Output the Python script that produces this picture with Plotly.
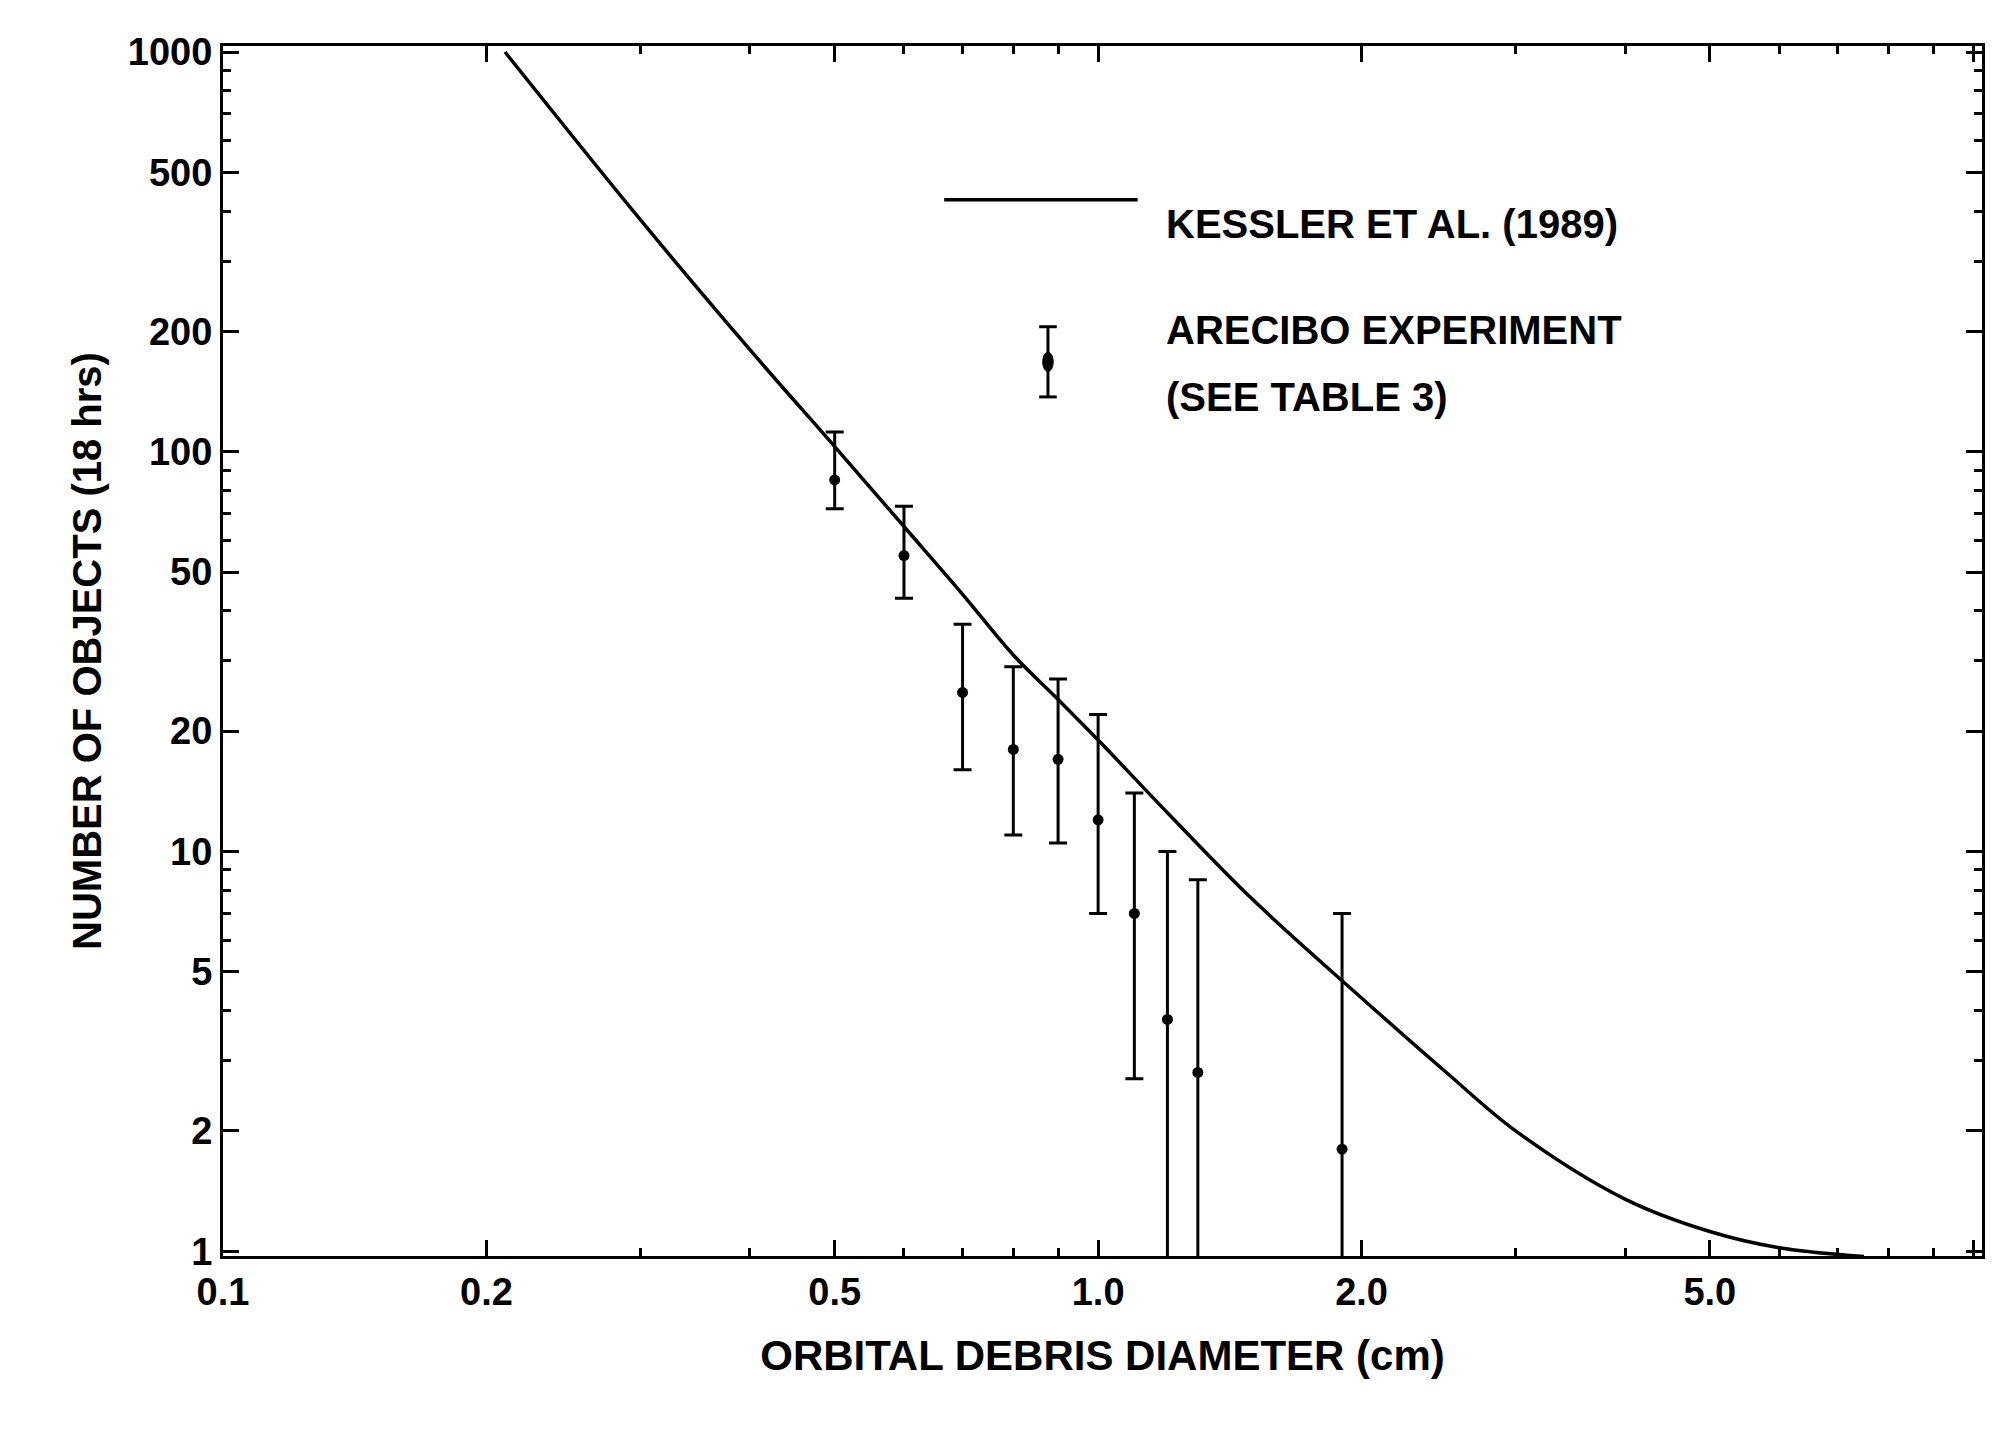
import plotly.graph_objects as go

# Kessler et al. (1989) model curve
kessler_d = [0.21, 0.3, 0.4, 0.5, 0.6, 0.7, 0.8, 0.9, 1.0, 1.2, 1.5, 2.0, 2.5, 3.0, 4.0, 5.0, 6.0, 7.5]
kessler_n = [1000, 380, 180, 103, 65, 44, 31, 24, 19, 12.5, 7.6, 4.3, 2.8, 2.0, 1.35, 1.12, 1.02, 0.97]

# Arecibo experiment points with error bars
arecibo_d = [0.5, 0.6, 0.7, 0.8, 0.9, 1.0, 1.1, 1.2, 1.3, 1.9]
arecibo_n = [85, 55, 25, 18, 17, 12, 7, 3.8, 2.8, 1.8]
arecibo_lo = [72, 43, 16, 11, 10.5, 7, 2.7, 0.9, 0.9, 0.9]
arecibo_hi = [112, 73, 37, 29, 27, 22, 14, 10, 8.5, 7]

xticks = [0.1, 0.2, 0.5, 1.0, 2.0, 5.0, 10.0]
xlabels = ["0.1", "0.2", "0.5", "1.0", "2.0", "5.0", "10.0"]
xminor = [0.3, 0.4, 0.6, 0.7, 0.8, 0.9, 3, 4, 6, 7, 8, 9]
yticks = [1, 2, 5, 10, 20, 50, 100, 200, 500, 1000]
yminor = [3, 4, 6, 7, 8, 9, 30, 40, 60, 70, 80, 90, 300, 400, 600, 700, 800, 900]

FONT = "Liberation Sans"

fig = go.Figure()
fig.add_trace(go.Scatter(
    x=kessler_d, y=kessler_n, mode="lines",
    line=dict(color="black", width=3.5, shape="spline", smoothing=1.0),
    showlegend=False,
))
fig.add_trace(go.Scatter(
    x=arecibo_d, y=arecibo_n, mode="markers",
    marker=dict(color="black", size=11),
    error_y=dict(
        type="data", symmetric=False,
        array=[h - n for h, n in zip(arecibo_hi, arecibo_n)],
        arrayminus=[n - l for n, l in zip(arecibo_n, arecibo_lo)],
        color="black", thickness=3, width=9,
    ),
    showlegend=False,
))

axis_common = dict(
    type="log", showgrid=False, zeroline=False,
    showline=True, linecolor="black", linewidth=3, mirror="ticks",
    ticks="inside", ticklen=16, tickwidth=3, tickcolor="black",
    tickfont=dict(family=FONT, size=38, color="black"),
)
fig.update_xaxes(**axis_common, range=[-1.0, 1.01], tickvals=xticks,
                 ticktext=[f"<b>{t}</b>" for t in xlabels],
                 minor=dict(tickvals=xminor, ticks="inside", ticklen=8, tickwidth=2.5, tickcolor="black"),
                 title=dict(text="<b>ORBITAL DEBRIS DIAMETER (cm)</b>",
                            font=dict(family=FONT, size=42, color="black"), standoff=30))
fig.update_yaxes(**axis_common, range=[-0.012, 3.015], tickvals=yticks,
                 ticktext=[f"<b>{t}</b>" for t in yticks],
                 minor=dict(tickvals=yminor, ticks="inside", ticklen=8, tickwidth=2.5, tickcolor="black"),
                 title=dict(text="<b>NUMBER OF OBJECTS (18 hrs)</b>",
                            font=dict(family=FONT, size=40, color="black"), standoff=14))

# Custom legend
fig.add_shape(type="line", xref="paper", yref="paper", x0=0.41, x1=0.52, y0=0.873, y1=0.873,
              line=dict(color="black", width=3.5))
fig.add_annotation(xref="paper", yref="paper", x=0.535, y=0.873, xanchor="left",
                   text="<b>KESSLER ET AL. (1989)</b>", showarrow=False,
                   font=dict(family=FONT, size=40, color="black"))
fig.add_shape(type="line", xref="paper", yref="paper", x0=0.469, x1=0.469, y0=0.71, y1=0.768,
              line=dict(color="black", width=3))
fig.add_shape(type="line", xref="paper", yref="paper", x0=0.464, x1=0.474, y0=0.768, y1=0.768,
              line=dict(color="black", width=3))
fig.add_shape(type="line", xref="paper", yref="paper", x0=0.464, x1=0.474, y0=0.71, y1=0.71,
              line=dict(color="black", width=3))
fig.add_shape(type="circle", xref="paper", yref="paper", x0=0.466, x1=0.472, y0=0.731, y1=0.747,
              fillcolor="black", line=dict(color="black", width=1))
fig.add_annotation(xref="paper", yref="paper", x=0.535, y=0.785, xanchor="left",
                   text="<b>ARECIBO EXPERIMENT</b>", showarrow=False,
                   font=dict(family=FONT, size=40, color="black"))
fig.add_annotation(xref="paper", yref="paper", x=0.535, y=0.73, xanchor="left",
                   text="<b>(SEE TABLE 3)</b>", showarrow=False,
                   font=dict(family=FONT, size=40, color="black"))

fig.update_layout(
    width=1996, height=1436,
    margin=dict(l=215, r=22, t=38, b=188),
    plot_bgcolor="white", paper_bgcolor="white",
    font=dict(family=FONT, color="black"),
)

fig.write_html("out.html")
